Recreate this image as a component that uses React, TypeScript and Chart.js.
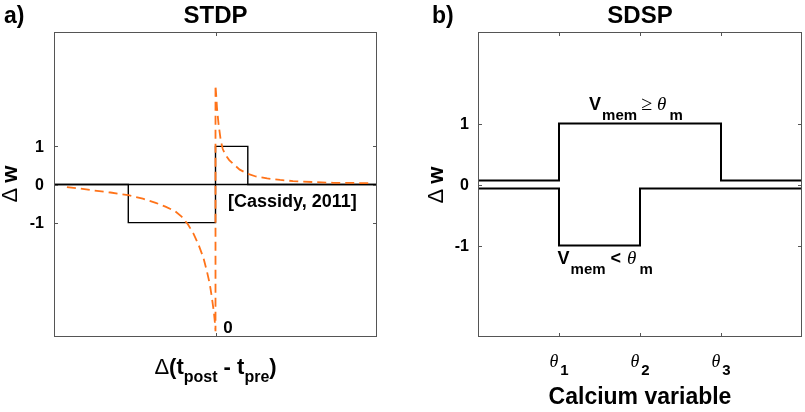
import { useEffect, useRef } from 'react';
import { Chart, registerables } from 'chart.js';
Chart.register(...registerables);

// ---------- Data: panel a) STDP ----------
const stdpXRange = [-100, 100];
const stdpYRange = [-4, 4];
const stdpYTicks = [-1, 0, 1];
const stdpYTickLabels = ['-1', '0', '1'];
const stdpXTicks = [0];
const stdpZeroX = [-100, 100];
const stdpZeroY = [0, 0];
const stdpStepX = [-100, -54, -54, 0, 0, 20, 20, 100];
const stdpStepY = [0, 0, -1, -1, 1, 1, 0, 0];
const stdpCurveX = [-92, -85, -75, -65, -54, -45, -37, -31, -25, -21, -17, -13.5, -10.5, -7.5, -5.3, -3.5, -2.2, -1.0, -0.2, 0, 0, 0.5, 0.9, 1.9, 3.3, 4.5, 6, 8.5, 11.2, 15, 19.5, 25, 32, 40, 48, 60, 73, 85, 95];
const stdpCurveY = [-0.07, -0.1, -0.16, -0.21, -0.28, -0.37, -0.48, -0.58, -0.7, -0.84, -1.05, -1.3, -1.58, -1.92, -2.28, -2.62, -2.98, -3.35, -3.7, -3.85, 2.6, 2.3, 2.02, 1.58, 1.14, 0.93, 0.79, 0.64, 0.53, 0.39, 0.29, 0.21, 0.16, 0.12, 0.09, 0.065, 0.045, 0.04, 0.035];

// ---------- Data: panel b) SDSP ----------
const sdspXRange = [0, 4];
const sdspYRange = [-2.5, 2.5];
const sdspYTicks = [-1, 0, 1];
const sdspYTickLabels = ['-1', '0', '1'];
const sdspXTicks = [1, 2, 3];
const sdspXTickSubs = ['1', '2', '3'];
const sdspUpperX = [0, 1, 1, 3, 3, 4];
const sdspUpperY = [0.065, 0.065, 1, 1, 0.065, 0.065];
const sdspLowerX = [0, 1, 1, 2, 2, 4];
const sdspLowerY = [-0.065, -0.065, -1, -1, -0.065, -0.065];

const SANS = '"Liberation Sans", Arial, Helvetica, sans-serif';
const SERIF = '"Liberation Serif", "Times New Roman", serif';
const ORANGE = 'rgb(255,115,25)';
const FRAME = '#555555';

type Part = { t: string; f: string; dy?: number; gap?: number };

function drawRich(ctx: CanvasRenderingContext2D, parts: Part[], x: number, y: number, align: 'left' | 'center' | 'right') {
  let total = 0;
  const widths = parts.map((p) => {
    ctx.font = p.f;
    const w = ctx.measureText(p.t).width;
    total += w + (p.gap || 0);
    return w;
  });
  let cx = align === 'center' ? x - total / 2 : align === 'right' ? x - total : x;
  ctx.textAlign = 'left';
  ctx.textBaseline = 'alphabetic';
  parts.forEach((p, i) => {
    cx += p.gap || 0;
    ctx.font = p.f;
    ctx.fillText(p.t, cx, y + (p.dy || 0));
    cx += widths[i];
  });
}

function pts(xs: number[], ys: number[]) {
  return xs.map((x, i) => ({ x, y: ys[i] }));
}

function drawFrame(chart: any, xTicks: number[], yTicks: number[]) {
  const { ctx, chartArea: a, scales } = chart;
  ctx.save();
  ctx.strokeStyle = FRAME;
  ctx.lineWidth = 1;
  ctx.strokeRect(a.left + 0.5, a.top + 0.5, a.right - a.left - 1, a.bottom - a.top - 1);
  const tl = 4;
  ctx.beginPath();
  yTicks.forEach((v) => {
    const py = Math.round(scales.y.getPixelForValue(v)) + 0.5;
    ctx.moveTo(a.left, py);
    ctx.lineTo(a.left + tl, py);
    ctx.moveTo(a.right, py);
    ctx.lineTo(a.right - tl, py);
  });
  xTicks.forEach((v) => {
    const px = Math.round(scales.x.getPixelForValue(v)) + 0.5;
    ctx.moveTo(px, a.bottom);
    ctx.lineTo(px, a.bottom - tl);
    ctx.moveTo(px, a.top);
    ctx.lineTo(px, a.top + tl);
  });
  ctx.stroke();
  ctx.restore();
}

function drawYTickLabels(chart: any, ticks: number[], labels: string[], gap: number) {
  const { ctx, chartArea: a, scales } = chart;
  ctx.save();
  ctx.fillStyle = '#000';
  ctx.font = `bold 16px ${SANS}`;
  ctx.textAlign = 'right';
  ctx.textBaseline = 'middle';
  ticks.forEach((v, i) => {
    ctx.fillText(labels[i], a.left - gap, scales.y.getPixelForValue(v) + 1);
  });
  ctx.restore();
}

function drawYLabel(ctx: CanvasRenderingContext2D, x: number, y: number) {
  ctx.save();
  ctx.fillStyle = '#000';
  ctx.translate(x, y);
  ctx.rotate(-Math.PI / 2);
  drawRich(ctx, [
    { t: '\u0394', f: `22px ${SANS}` },
    { t: 'w', f: `bold 22px ${SANS}`, gap: 5 },
  ], 0, 0, 'center');
  ctx.restore();
}

const stdpDecor = {
  id: 'stdpDecor',
  afterDatasetsDraw(chart: any) {
    const { ctx, chartArea: a, scales } = chart;
    drawFrame(chart, stdpXTicks, stdpYTicks);
    drawYTickLabels(chart, stdpYTicks, stdpYTickLabels, 10);
    ctx.save();
    ctx.fillStyle = '#000';
    ctx.font = `bold 24px ${SANS}`;
    ctx.textAlign = 'center';
    ctx.textBaseline = 'alphabetic';
    ctx.fillText('STDP', (a.left + a.right) / 2, 23);
    ctx.textAlign = 'left';
    ctx.font = `bold 23px ${SANS}`;
    ctx.fillText('a)', 4, 23);
    drawYLabel(ctx, 17, 184);
    drawRich(ctx, [
      { t: '\u0394', f: `22px ${SANS}` },
      { t: '(t', f: `bold 22px ${SANS}` },
      { t: 'post', f: `bold 16px ${SANS}`, dy: 8 },
      { t: ' - t', f: `bold 22px ${SANS}` },
      { t: 'pre', f: `bold 16px ${SANS}`, dy: 8 },
      { t: ')', f: `bold 22px ${SANS}` },
    ], (a.left + a.right) / 2, 374, 'center');
    ctx.font = `bold 18px ${SANS}`;
    ctx.textAlign = 'left';
    ctx.fillText('[Cassidy, 2011]', scales.x.getPixelForValue(7.7), scales.y.getPixelForValue(-0.58));
    ctx.textAlign = 'center';
    ctx.font = `bold 17px ${SANS}`;
    ctx.fillText('0', scales.x.getPixelForValue(7.7), scales.y.getPixelForValue(-3.89));
    ctx.restore();
  },
};

const sdspDecor = {
  id: 'sdspDecor',
  afterDatasetsDraw(chart: any) {
    const { ctx, chartArea: a, scales } = chart;
    drawFrame(chart, sdspXTicks, sdspYTicks);
    drawYTickLabels(chart, sdspYTicks, sdspYTickLabels, 9);
    ctx.save();
    ctx.fillStyle = '#000';
    ctx.font = `bold 24px ${SANS}`;
    ctx.textAlign = 'center';
    ctx.textBaseline = 'alphabetic';
    ctx.fillText('SDSP', (a.left + a.right) / 2, 23);
    ctx.textAlign = 'left';
    ctx.font = `bold 23px ${SANS}`;
    ctx.fillText('b)', 32, 23);
    drawYLabel(ctx, 43, 185);
    sdspXTicks.forEach((v, i) => {
      drawRich(ctx, [
        { t: '\u03b8', f: `italic 18px ${SERIF}` },
        { t: sdspXTickSubs[i], f: `bold 15px ${SANS}`, dy: 8, gap: 2 },
      ], scales.x.getPixelForValue(v), 367, 'center');
    });
    ctx.font = `bold 23px ${SANS}`;
    ctx.textAlign = 'center';
    ctx.fillText('Calcium variable', (a.left + a.right) / 2, 404);
    drawRich(ctx, [
      { t: 'V', f: `bold 18px ${SANS}` },
      { t: 'mem', f: `bold 15px ${SANS}`, dy: 10, gap: 1 },
      { t: '\u2265', f: `20px ${SERIF}`, gap: 4 },
      { t: '\u03b8', f: `italic 19px ${SERIF}`, gap: 5 },
      { t: 'm', f: `bold 15px ${SANS}`, dy: 10, gap: 3 },
    ], scales.x.getPixelForValue(1.95), scales.y.getPixelForValue(1.22), 'center');
    drawRich(ctx, [
      { t: 'V', f: `bold 18px ${SANS}` },
      { t: 'mem', f: `bold 15px ${SANS}`, dy: 10, gap: 1 },
      { t: '<', f: `bold 18px ${SANS}`, gap: 5 },
      { t: '\u03b8', f: `italic 19px ${SERIF}`, gap: 6 },
      { t: 'm', f: `bold 15px ${SANS}`, dy: 10, gap: 3 },
    ], scales.x.getPixelForValue(1.57), scales.y.getPixelForValue(-1.31), 'center');
    ctx.restore();
  },
};

function baseOptions(xr: number[], yr: number[], pad: any) {
  return {
    responsive: false,
    animation: false as const,
    events: [] as any[],
    layout: { padding: pad },
    plugins: { legend: { display: false }, tooltip: { enabled: false } },
    elements: { point: { radius: 0 }, line: { tension: 0 } },
    scales: {
      x: { type: 'linear' as const, min: xr[0], max: xr[1], display: false },
      y: { type: 'linear' as const, min: yr[0], max: yr[1], display: false },
    },
  };
}

export default function App() {
  const leftRef = useRef<HTMLCanvasElement>(null);
  const rightRef = useRef<HTMLCanvasElement>(null);

  useEffect(() => {
    const c1 = new Chart(leftRef.current!, {
      type: 'line',
      data: {
        datasets: [
          { data: pts(stdpCurveX, stdpCurveY), borderColor: ORANGE, borderWidth: 1.8, borderDash: [9, 5], order: 0, fill: false } as any,
          { data: pts(stdpStepX, stdpStepY), borderColor: '#000', borderWidth: 1.4, order: 1, fill: false },
          { data: pts(stdpZeroX, stdpZeroY), borderColor: '#000', borderWidth: 1.4, order: 2, fill: false },
        ],
      },
      options: baseOptions(stdpXRange, stdpYRange, { left: 54, top: 32, right: 23, bottom: 75 }) as any,
      plugins: [stdpDecor],
    });
    const c2 = new Chart(rightRef.current!, {
      type: 'line',
      data: {
        datasets: [
          { data: pts(sdspUpperX, sdspUpperY), borderColor: '#000', borderWidth: 2, fill: false },
          { data: pts(sdspLowerX, sdspLowerY), borderColor: '#000', borderWidth: 2, fill: false },
        ],
      },
      options: baseOptions(sdspXRange, sdspYRange, { left: 78, top: 32, right: 3, bottom: 75 }) as any,
      plugins: [sdspDecor],
    });
    return () => {
      c1.destroy();
      c2.destroy();
    };
  }, []);

  return (
    <div style={{ position: 'fixed', left: 0, top: 0, width: 805, height: 412, background: '#fff' }}>
      <canvas ref={leftRef} width={400} height={412} style={{ position: 'absolute', left: 0, top: 0, width: 400, height: 412 }} />
      <canvas ref={rightRef} width={405} height={412} style={{ position: 'absolute', left: 400, top: 0, width: 405, height: 412 }} />
    </div>
  );
}
